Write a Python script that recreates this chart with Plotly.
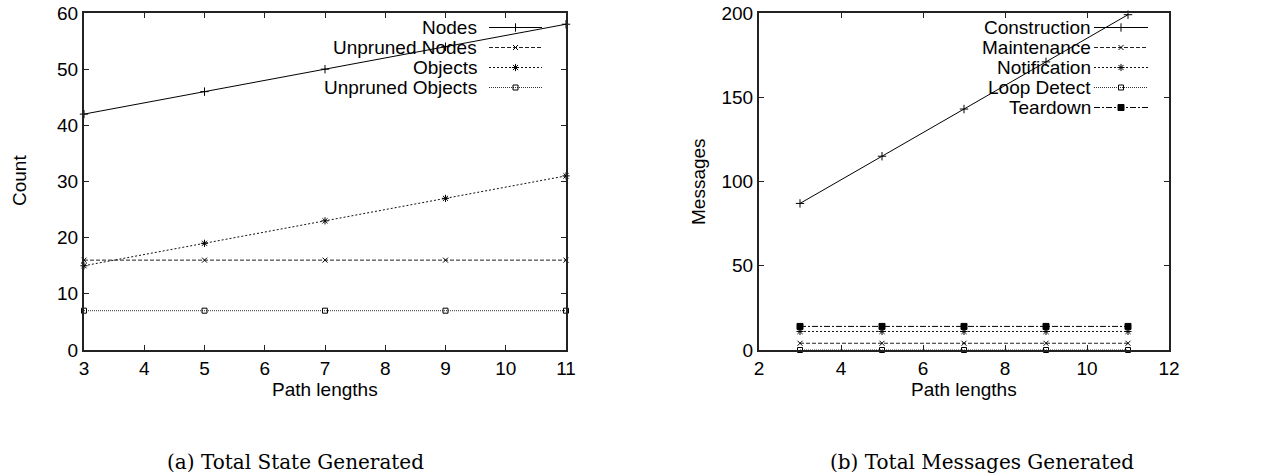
import plotly.graph_objects as go

# ---------------- data ----------------
path_lengths = [3, 5, 7, 9, 11]

state_names = ["Nodes", "Unpruned Nodes", "Objects", "Unpruned Objects"]
nodes = [42, 46, 50, 54, 58]
unpruned_nodes = [16, 16, 16, 16, 16]
objects = [15, 19, 23, 27, 31]
unpruned_objects = [7, 7, 7, 7, 7]

msg_names = ["Construction", "Maintenance", "Notification", "Loop Detect", "Teardown"]
construction = [87, 115, 143, 171, 199]
maintenance = [4, 4, 4, 4, 4]
notification = [11, 11, 11, 11, 11]
loop_detect = [0, 0, 0, 0, 0]
teardown = [14, 14, 14, 14, 14]

captions = ["(a) Total State Generated", "(b) Total Messages Generated"]

# ---------------- styles ----------------
W, H = 1264, 474
SANS = "Liberation Sans, Arial, sans-serif"
SERIF = "DejaVu Serif, serif"
FS = 19

state_styles = [
    dict(dash="solid", symbol="cross-thin-open", size=6, color="#000"),
    dict(dash="4px,2px", symbol="x-thin-open", size=5, color="#222"),
    dict(dash="2px,2px", symbol="asterisk-open", size=6, color="#111"),
    dict(dash="1px,1px", symbol="square-open", size=5, color="#333"),
]
msg_styles = [
    dict(dash="solid", symbol="cross-thin-open", size=6, color="#000"),
    dict(dash="4px,2px", symbol="x-thin-open", size=5, color="#222"),
    dict(dash="2px,2px", symbol="asterisk-open", size=6, color="#111"),
    dict(dash="1px,1px", symbol="square-open", size=5, color="#333"),
    dict(dash="6px,2px,2px,2px", symbol="square", size=6, color="#000"),
]

fig = go.Figure()


def add_series(xs, ys, st, xa, ya):
    fig.add_trace(go.Scatter(
        x=xs, y=ys, mode="lines+markers", xaxis=xa, yaxis=ya, cliponaxis=False,
        line=dict(color=st["color"], width=1, dash=st["dash"]),
        marker=dict(symbol=st["symbol"], size=st["size"], color="#000",
                    line=dict(color="#000", width=1)),
        showlegend=False, hoverinfo="skip"))


for ys, st in zip([nodes, unpruned_nodes, objects, unpruned_objects], state_styles):
    add_series(path_lengths, ys, st, "x", "y")
for ys, st in zip([construction, maintenance, notification, loop_detect, teardown], msg_styles):
    add_series(path_lengths, ys, st, "x2", "y2")

# -------- gnuplot-style keys (text left of sample) on a full-page pixel axis --------
def add_key(names, styles, text_right, s0, s1, y0, dy):
    for i, (nm, st) in enumerate(zip(names, styles)):
        yy = y0 + i * dy
        fig.add_trace(go.Scatter(
            x=[s0, s1], y=[yy, yy], mode="lines", xaxis="x3", yaxis="y3",
            line=dict(color=st["color"], width=1, dash=st["dash"]),
            showlegend=False, hoverinfo="skip"))
        fig.add_trace(go.Scatter(
            x=[(s0 + s1) / 2], y=[yy], mode="markers", xaxis="x3", yaxis="y3",
            marker=dict(symbol=st["symbol"], size=st["size"], color="#000",
                        line=dict(color="#000", width=1)),
            showlegend=False, hoverinfo="skip"))
        fig.add_annotation(x=text_right, y=yy, xref="x3", yref="y3", text=nm,
                           showarrow=False, xanchor="right", yanchor="middle",
                           bgcolor="rgba(0,0,0,0)",
                           font=dict(family=SANS, size=FS, color="#000"))


add_key(state_names, state_styles, 479, 489, 542, 27.5, 20)
add_key(msg_names, msg_styles, 1093, 1094, 1148, 27.5, 20)

# ---------------- axes ----------------
ax_common = dict(showline=True, linecolor="#222", linewidth=2, mirror="ticks",
                 ticks="inside", ticklen=5, tickcolor="#222", tickwidth=1,
                 showgrid=False, zeroline=False, automargin=False,
                 tickfont=dict(family=SANS, size=FS, color="#000"))

ydom = [1 - 350 / H, 1 - 13 / H]
fig.update_layout(
    width=W, height=H, margin=dict(l=0, r=0, t=0, b=0, pad=0),
    paper_bgcolor="white", plot_bgcolor="rgba(0,0,0,0)", showlegend=False,
    xaxis=dict(domain=[84 / W, 566 / W], range=[3, 11], dtick=1, tick0=3,
               anchor="y", **ax_common),
    yaxis=dict(domain=ydom, range=[0, 60], dtick=10, anchor="x", **ax_common),
    xaxis2=dict(domain=[759 / W, 1169 / W], range=[2, 12], dtick=2, tick0=2,
                anchor="y2", **ax_common),
    yaxis2=dict(domain=ydom, range=[0, 200], dtick=50, anchor="x2", **ax_common),
    xaxis3=dict(domain=[0, 1], range=[0, W], visible=False, anchor="y3",
                automargin=False),
    yaxis3=dict(domain=[0, 1], range=[H, 0], visible=False, anchor="x3",
                automargin=False),
)

def ann(x, y, text, font, angle=0):
    fig.add_annotation(x=x / W, y=1 - y / H, xref="paper", yref="paper", text=text,
                       showarrow=False, xanchor="center", yanchor="middle",
                       textangle=angle, font=font)

sans = dict(family=SANS, size=FS, color="#000")
ann(325, 389, "Path lengths", sans)
ann(964, 389, "Path lengths", sans)
ann(19, 181, "Count", sans, -90)
ann(698, 181, "Messages", sans, -90)
serif = dict(family=SERIF, size=20, color="#000")
ann(295, 462, captions[0], serif)
ann(982, 462, captions[1], serif)

fig.write_html("out.html",
               config={"displayModeBar": False, "staticPlot": True},
               post_script="document.body.style.margin='0';"
                           "document.body.style.overflow='hidden';")
